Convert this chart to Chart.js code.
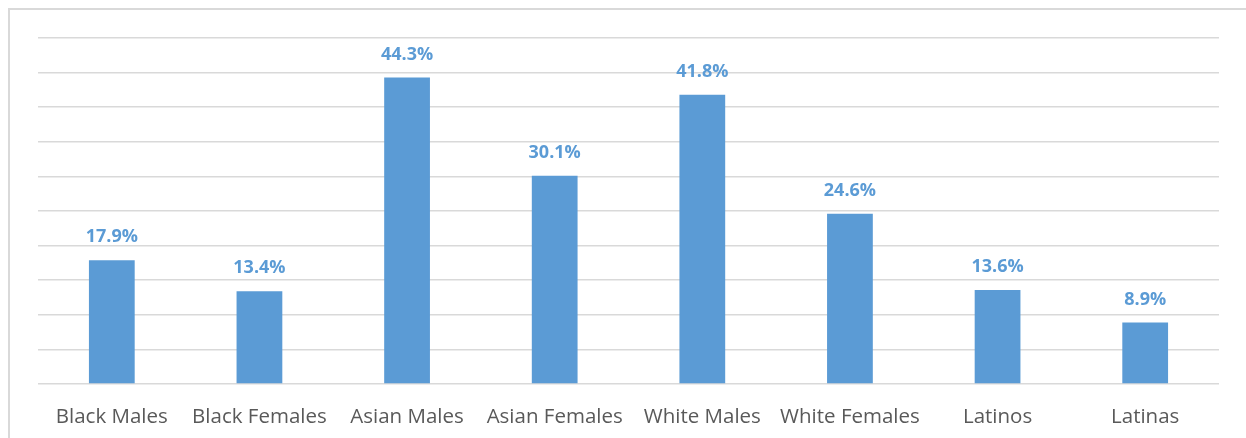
<!DOCTYPE html>
<html>
<head>
<meta charset="utf-8">
<script src="https://cdn.jsdelivr.net/npm/chart.js@4"></script>
<style>
  html, body { margin: 0; padding: 0; background: #fff; }
  #wrap { position: relative; width: 1246px; height: 438px; overflow: hidden; }
  #frame {
    position: absolute; left: 8px; top: 8px; right: -4px; bottom: -4px;
    border: 2px solid #D9D9D9;
  }
  #chart { position: absolute; left: 0; top: 0; }
</style>
</head>
<body>
<div id="wrap">
  <div id="frame"></div>
  <canvas id="chart" width="1246" height="438"></canvas>
</div>
<script>
// Categories and values (percent)
const categories = ['Black Males', 'Black Females', 'Asian Males', 'Asian Females',
                    'White Males', 'White Females', 'Latinos', 'Latinas'];
const shares = [17.9, 13.4, 44.3, 30.1, 41.8, 24.6, 13.6, 8.9];
const yMax = 50;
const yStep = 5;

const barBlue = '#5B9BD5';
const gridGrey = '#D9D9D9';

// draw the value labels above each bar
const valueLabels = {
  id: 'valueLabels',
  afterDatasetsDraw(chart) {
    const ctx = chart.ctx;
    const meta = chart.getDatasetMeta(0);
    ctx.save();
    ctx.font = 'bold 18px "Open Sans", sans-serif';
    ctx.fillStyle = barBlue;
    ctx.textAlign = 'center';
    ctx.textBaseline = 'middle';
    meta.data.forEach((bar, i) => {
      ctx.fillText(shares[i].toFixed(1) + '%', bar.x, bar.y - 23);
    });
    ctx.restore();
  }
};

const el = document.getElementById('chart');
new Chart(el.getContext('2d'), {
  type: 'bar',
  data: {
    labels: categories,
    datasets: [{
      data: shares,
      backgroundColor: barBlue,
      borderWidth: 0,
      barPercentage: 0.62,
      categoryPercentage: 0.5
    }]
  },
  options: {
    responsive: false,
    animation: false,
    layout: { padding: { left: 38, right: 27, top: 38, bottom: 0 } },
    plugins: {
      legend: { display: false },
      tooltip: { enabled: false }
    },
    scales: {
      x: {
        grid: { display: false },
        border: { display: false },
        ticks: {
          color: '#595959',
          font: { family: '"Open Sans", sans-serif', size: 20.5 },
          padding: 13,
          maxRotation: 0,
          autoSkip: false
        },
        afterFit: (scale) => { scale.height = 54; }
      },
      y: {
        min: 0,
        max: yMax,
        ticks: { display: false, stepSize: yStep },
        grid: { color: gridGrey, lineWidth: 1.5, drawTicks: false },
        border: { display: false },
        afterFit: (scale) => { scale.width = 0; }
      }
    }
  },
  plugins: [valueLabels]
});
</script>
</body>
</html>
